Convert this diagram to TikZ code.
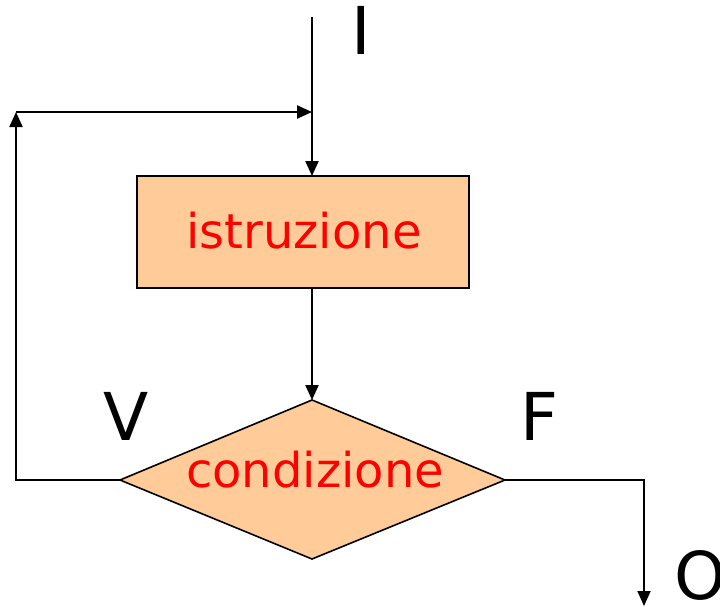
\documentclass[tikz,border=0pt]{standalone}
\usepackage{fontspec}
\setmainfont{DejaVu Sans}
\usetikzlibrary{arrows.meta,shapes.geometric}
\definecolor{peach}{HTML}{FFCC99}
\begin{document}
\begin{tikzpicture}[x=1pt,y=-1pt,
  arr/.style={line width=2.2pt,-{Triangle[length=15pt,width=13pt]}},
  big/.style={font=\fontsize{66}{66}\selectfont,anchor=base west,inner sep=0pt},
  lbl/.style={font=\fontsize{48}{48}\selectfont,text=red,inner sep=0pt}]
\useasboundingbox (0,0) rectangle (720,606);
\clip (0,0) rectangle (720,606);
% box
\node[draw,line width=1.6pt,fill=peach,minimum width=332pt,minimum height=112pt,inner sep=0pt] (box) at (303,232) {};
\node[lbl] (t1) at (304,231) {istruzione};
% diamond
\coordinate (dl) at (120,480);
\coordinate (dt) at (312,400);
\coordinate (dr) at (505,480);
\coordinate (db) at (312,559);
\draw[line width=1.6pt,fill=peach] (dl) -- (dt) -- (dr) -- (db) -- cycle;
\node[lbl] (t2) at (315,470) {condizione};
% coordinates
\coordinate (top) at (312,17);
\coordinate (boxtop) at (312,176);
\coordinate (boxbot) at (312,288);
\coordinate (lc) at (16,480);
\coordinate (lt) at (16,112);
\coordinate (mt) at (312,112);
\coordinate (rc) at (644,480);
\coordinate (rb) at (644,606);
% connectors
\draw[arr] (top) -- (boxtop);
\draw[arr] (boxbot) -- (dt);
\draw[arr,line width=2pt] (dl) -- (lc) -- (lt);
\draw[arr,line width=2.4pt] (lt) -- (mt);
\draw[arr,line width=1.8pt] (dr) -- (rc) -- (rb);
% labels
\node[big] (I) at (351.5,54) {I};
\node[big] (V) at (103,440) {V};
\node[big] (F) at (520.5,440) {F};
\node[big] (O) at (674,599) {O};
\end{tikzpicture}
\end{document}
